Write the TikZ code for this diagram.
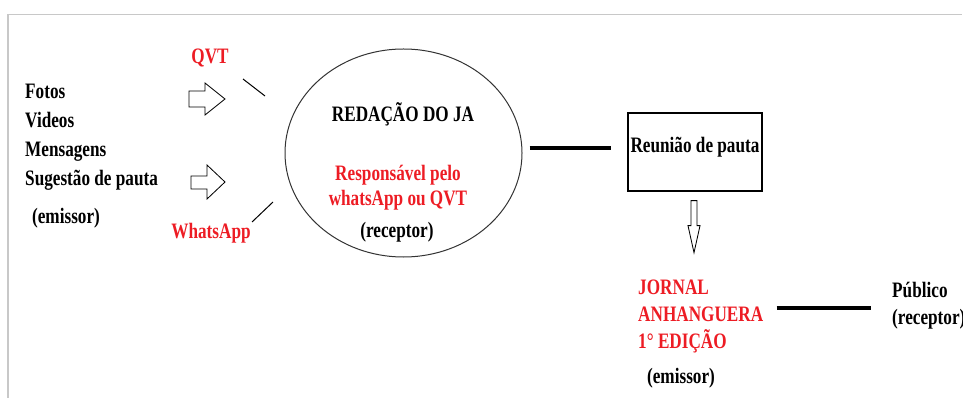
\documentclass[tikz,border=0pt]{standalone}
\usepackage{fontspec}
\setmainfont[FakeStretch=0.78]{Liberation Serif}
\usepackage{xcolor}
\usepackage{tikz}
\definecolor{jared}{HTML}{ED1C24}
\definecolor{framegray}{HTML}{C8C8C8}
\usetikzlibrary{shapes.geometric, positioning, calc}

\begin{document}
\begin{tikzpicture}[
    x=0.3mm, y=-0.3mm,
    txt/.style={font=\fontsize{18.8pt}{23pt}\selectfont\bfseries, inner sep=0pt},
    redtxt/.style={txt, text=jared},
    hollow/.style={draw, line width=0.25mm, fill=white},
    link/.style={line width=1.2mm},
    tick/.style={line width=0.3mm}
]
\useasboundingbox (0,0) rectangle (963,398);
\draw[framegray, line width=0.45mm] (8,398) -- (8,14.5) -- (962,14.5);

% emissor
\foreach \midia [count=\i] in {Fotos, Videos, Mensagens, Sugestão de pauta}
    \node[txt, anchor=base west] (midia\i) at (25,{70+29*\i}) {\midia};
\node[txt, anchor=base] (emissor1) at (66,224) {(emissor)};

% canais
\node[redtxt, anchor=base] (qvt) at (210,64) {QVT};
\node[redtxt, anchor=base] (whats) at (211,239) {WhatsApp};
\draw[hollow] (189,91) -- (205,91) -- (205,83) -- (225,99) -- (205,115) -- (205,107) -- (189,107) -- cycle;
\draw[hollow] (191,176) -- (207,176) -- (207,165) -- (225,182) -- (207,199) -- (207,189) -- (191,189) -- cycle;
\draw[tick] (243,79) -- (265,96);
\draw[tick] (252,222) -- (273,202);

% receptor
\node[ellipse, draw=black!80, line width=0.3mm, inner sep=0pt,
      minimum width=71.1mm, minimum height=62.4mm] (redacao) at (403.5,153) {};
\node[txt, anchor=base] (titulo) at (403,122) {REDAÇÃO DO JA};
\node[redtxt, anchor=base, align=center] (resp) at (398,206) {Responsável pelo\\[-1pt]whatsApp ou QVT};
\node[txt, anchor=base] (receptor1) at (397,238) {(receptor)};

% pauta
\node[rectangle, draw, line width=0.4mm, inner sep=0pt, minimum width=40.2mm,
      text height=12mm, text depth=11.4mm] (reuniao) at (695,152) {\fontsize{18.8pt}{23pt}\selectfont\bfseries Reunião de pauta};
\draw[link] ($(redacao.east)+(7,-5)$) -- ($(reuniao.west)+(-16,-4)$);
\draw[hollow] ($(reuniao.south)+(-4,9)$) -- ++(6,0) -- ++(0,25) -- ++(3,0) -- ++(-6,27) -- ++(-6,-27) -- ++(3,0) -- cycle;

% jornal
\node[redtxt, align=left, anchor=base west] (jornal) at (638,348) {JORNAL\\ANHANGUERA\\1° EDIÇÃO};
\node[txt, anchor=base] (emissor2) at (681,383) {(emissor)};
\node[txt, align=left, anchor=base west] (publico) at (892,324) {Público\\(receptor)};
\draw[link] ($(jornal.base east)+(13,-40)$) -- ($(publico.base west)+(-21,-16)$);

\end{tikzpicture}
\end{document}
